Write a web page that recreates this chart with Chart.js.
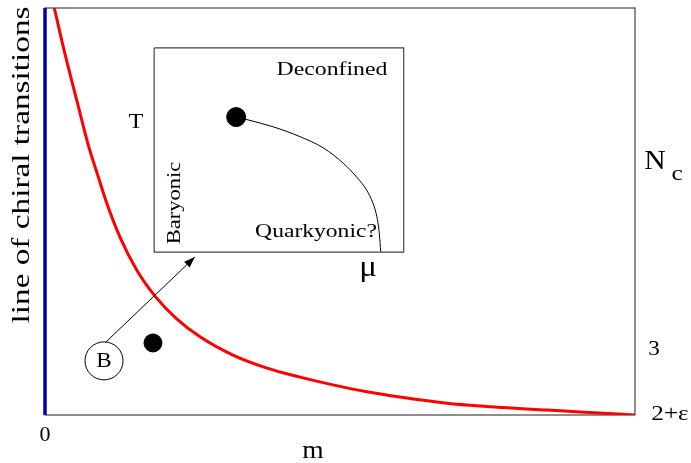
<!DOCTYPE html>
<html>
<head>
<meta charset="utf-8">
<script src="https://cdn.jsdelivr.net/npm/chart.js@4/dist/chart.umd.min.js"></script>
<style>
html,body{margin:0;padding:0;background:#fff;}
#wrap{width:691px;height:463px;position:relative;}
</style>
</head>
<body>
<div id="wrap"><canvas id="c" width="691" height="463"></canvas></div>
<script>
// ---- data (axes are 0..100 in both directions) ----
const curveM  = [1.58, 3.22, 5.37, 7.34, 9.03, 10.46, 12.71, 15.54, 18.64, 22.32, 26.27, 31.86, 37.63, 43.22, 48.81, 54.58, 60.17, 68.14, 73.73, 85.08, 90.68, 100];
const curveNc = [100, 89.7, 77.4, 66.3, 58.5, 52.1, 43.7, 35.6, 29.2, 23.6, 19.2, 14.7, 11.5, 9.3, 7.4, 5.7, 4.4, 2.9, 2.2, 1.2, 0.75, 0];
const axisLineM  = [0, 0];
const axisLineNc = [0, 100];
const dotM = [18.3], dotNc = [17.7];
const bubbleM = [10.0], bubbleNc = [13.3];
const arrowM = [10.3, 25.4], arrowNc = [17.9, 38.8];
const insetBoxM  = [18.5, 60.8, 60.8, 18.5, 18.5];
const insetBoxNc = [90.2, 90.2, 40.0, 40.0, 90.2];
const insetMu = [33.9, 38.7, 43.2, 47.2, 50.6, 52.8, 54.5, 55.6, 56.25, 56.6, 56.8, 56.9];
const insetT  = [72.7, 70.8, 68.4, 65.6, 61.8, 58.5, 55.3, 52.0, 48.7, 45.5, 42.2, 40.1];
const insetDotMu = [32.4], insetDotT = [73.2];
const yAxisTitle = 'line of chiral transitions';
const xAxisTitle = 'm';
const xTickLabels = ['0'];
const rightLabels = ['3', '2+ε'];
const rightTitle = ['N', 'c'];
const insetLabels = ['Deconfined', 'Baryonic', 'Quarkyonic?', 'T', 'μ', 'B'];

const pts = (xs, ys) => xs.map((x, i) => ({x, y: ys[i]}));
const SERIF = '"Liberation Serif", "DejaVu Serif", serif';

function txt(ctx, s, x, y, size, sx, rot) {
  ctx.save();
  ctx.translate(x, y);
  if (rot) ctx.rotate(rot);
  ctx.scale(sx || 1, 1);
  ctx.font = size + 'px ' + SERIF;
  ctx.fillText(s, 0, 0);
  ctx.restore();
}

const deco = {
  id: 'deco',
  beforeDatasetsDraw(chart) {
    const {ctx, chartArea: a} = chart;
    ctx.save();
    ctx.strokeStyle = '#444';
    ctx.lineWidth = 1.2;
    ctx.strokeRect(a.left, a.top, a.right - a.left, a.bottom - a.top);
    ctx.restore();
  },
  afterDatasetsDraw(chart) {
    const {ctx} = chart;
    const xs = chart.scales.x, ys = chart.scales.y;
    const X = v => xs.getPixelForValue(v), Y = v => ys.getPixelForValue(v);
    ctx.save();
    // arrow head
    const x1 = X(arrowM[0]), y1 = Y(arrowNc[0]), x2 = X(arrowM[1]), y2 = Y(arrowNc[1]);
    const ang = Math.atan2(y2 - y1, x2 - x1);
    const L = 11, W = 4;
    ctx.fillStyle = '#000';
    ctx.beginPath();
    ctx.moveTo(x2, y2);
    ctx.lineTo(x2 - L*Math.cos(ang) + W*Math.sin(ang), y2 - L*Math.sin(ang) - W*Math.cos(ang));
    ctx.lineTo(x2 - L*Math.cos(ang) - W*Math.sin(ang), y2 - L*Math.sin(ang) + W*Math.cos(ang));
    ctx.closePath();
    ctx.fill();

    ctx.fillStyle = '#000';
    ctx.textAlign = 'center';
    ctx.textBaseline = 'middle';
    txt(ctx, insetLabels[5], X(bubbleM[0]), Y(bubbleNc[0]) + 1, 21, 1.1);
    txt(ctx, insetLabels[0], 332, 70, 18, 1.32);
    txt(ctx, insetLabels[2], 316, 232, 18, 1.31);
    txt(ctx, insetLabels[3], 136, 122, 22, 1.1);
    txt(ctx, insetLabels[1], 175, 203, 18, 1.25, -Math.PI/2);
    txt(ctx, insetLabels[4], 368, 268, 30, 1.1);
    txt(ctx, yAxisTitle, 22, 165, 26, 1.28, -Math.PI/2);
    txt(ctx, xAxisTitle, 313, 451, 25, 1.1);
    txt(ctx, xTickLabels[0], X(0), 436, 20, 1.1);
    txt(ctx, rightLabels[0], 654, 349, 21, 1.1);
    txt(ctx, rightLabels[1], 670, 414, 21, 1.2);
    txt(ctx, rightTitle[0], 655, 162, 27, 1.1);
    txt(ctx, rightTitle[1], 677, 174, 22, 1.15);
    ctx.restore();
  }
};

new Chart(document.getElementById('c'), {
  type: 'scatter',
  data: {
    datasets: [
      {data: pts(insetBoxM, insetBoxNc), showLine: true, borderColor: '#444', borderWidth: 1.2, pointRadius: 0, fill: false, tension: 0},
      {data: pts(insetMu, insetT), showLine: true, borderColor: '#000', borderWidth: 1, pointRadius: 0, cubicInterpolationMode: 'monotone'},
      {data: pts(insetDotMu, insetDotT), pointRadius: 9.5, backgroundColor: '#000', borderColor: '#000'},
      {data: pts(arrowM, arrowNc), showLine: true, borderColor: '#000', borderWidth: 1, pointRadius: 0},
      {data: pts(curveM, curveNc), showLine: true, borderColor: '#ff0000', borderWidth: 3, pointRadius: 0, cubicInterpolationMode: 'monotone'},
      {data: pts(axisLineM, axisLineNc), showLine: true, borderColor: '#0000a8', borderWidth: 3.5, pointRadius: 0, clip: false},
      {data: pts(dotM, dotNc), pointRadius: 9, backgroundColor: '#000', borderColor: '#000'},
      {data: pts(bubbleM, bubbleNc), pointRadius: 19, backgroundColor: '#fff', borderColor: '#000', borderWidth: 1}
    ]
  },
  options: {
    responsive: false,
    animation: false,
    layout: {autoPadding: false, padding: {left: 45, top: 8, right: 56, bottom: 48}},
    plugins: {legend: {display: false}, tooltip: {enabled: false}},
    scales: {
      x: {type: 'linear', min: 0, max: 100, display: false},
      y: {type: 'linear', min: 0, max: 100, display: false}
    }
  },
  plugins: [deco]
});
</script>
</body>
</html>
